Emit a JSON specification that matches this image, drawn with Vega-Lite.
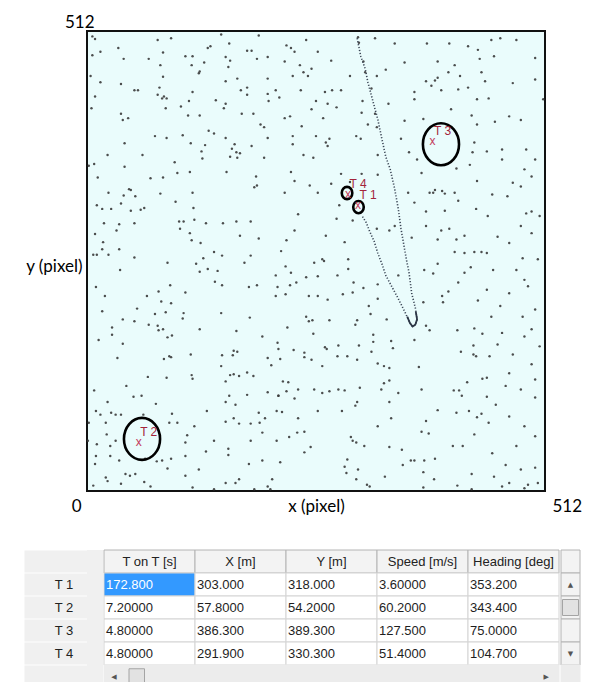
{
"$schema": "https://vega.github.io/schema/vega-lite/v6.json",
"padding": {"left": 13, "top": 12, "right": 0, "bottom": 0},
"background": "white",
"config": {"view": {"stroke": null}},
"spacing": 34,
"datasets": {
"dots": [
{"x":6,"y":506},{"x":9,"y":503},{"x":79,"y":502},{"x":94,"y":504},{"x":150,"y":508},{"x":192,"y":507},{"x":15,"y":489},{"x":35,"y":493},{"x":85,"y":488},{"x":135,"y":493},{"x":138,"y":495},{"x":159,"y":498},{"x":179,"y":490},{"x":184,"y":490},{"x":6,"y":485},{"x":41,"y":481},{"x":69,"y":481},{"x":110,"y":484},{"x":118,"y":484},{"x":131,"y":477},{"x":155,"y":483},{"x":160,"y":479},{"x":190,"y":481},{"x":202,"y":483},{"x":82,"y":474},{"x":117,"y":474},{"x":158,"y":472},{"x":126,"y":467},{"x":125,"y":465},{"x":4,"y":462},{"x":85,"y":461},{"x":202,"y":459},{"x":168,"y":459},{"x":15,"y":455},{"x":38,"y":453},{"x":155,"y":456},{"x":179,"y":449},{"x":172,"y":446},{"x":53,"y":446},{"x":57,"y":446},{"x":81,"y":449},{"x":118,"y":444},{"x":202,"y":442},{"x":211,"y":446},{"x":9,"y":439},{"x":79,"y":441},{"x":84,"y":437},{"x":86,"y":439},{"x":89,"y":437},{"x":114,"y":434},{"x":144,"y":435},{"x":155,"y":431},{"x":179,"y":441},{"x":203,"y":434},{"x":5,"y":426},{"x":88,"y":426},{"x":105,"y":428},{"x":153,"y":426},{"x":38,"y":420},{"x":40,"y":413},{"x":46,"y":415},{"x":113,"y":418},{"x":126,"y":418},{"x":173,"y":420},{"x":186,"y":420},{"x":194,"y":408},{"x":198,"y":405},{"x":76,"y":395},{"x":89,"y":393},{"x":107,"y":396},{"x":136,"y":401},{"x":142,"y":398},{"x":155,"y":393},{"x":202,"y":393},{"x":42,"y":387},{"x":116,"y":387},{"x":132,"y":385},{"x":165,"y":386},{"x":184,"y":384},{"x":23,"y":374},{"x":62,"y":374},{"x":128,"y":378},{"x":162,"y":381},{"x":167,"y":377},{"x":171,"y":376},{"x":160,"y":372},{"x":168,"y":371},{"x":129,"y":370},{"x":198,"y":371},{"x":8,"y":364},{"x":2,"y":362},{"x":42,"y":361},{"x":98,"y":366},{"x":12,"y":349},{"x":71,"y":348},{"x":85,"y":349},{"x":101,"y":354},{"x":115,"y":355},{"x":156,"y":355},{"x":189,"y":350},{"x":47,"y":336},{"x":49,"y":335},{"x":24,"y":332},{"x":41,"y":329},{"x":54,"y":328},{"x":82,"y":331},{"x":118,"y":332},{"x":187,"y":338},{"x":190,"y":340},{"x":99,"y":322},{"x":38,"y":320},{"x":11,"y":318},{"x":17,"y":314},{"x":27,"y":314},{"x":49,"y":312},{"x":60,"y":313},{"x":64,"y":315},{"x":119,"y":315},{"x":103,"y":300},{"x":108,"y":300},{"x":19,"y":298},{"x":36,"y":297},{"x":53,"y":298},{"x":120,"y":302},{"x":133,"y":298},{"x":152,"y":298},{"x":167,"y":300},{"x":183,"y":300},{"x":9,"y":286},{"x":33,"y":290},{"x":104,"y":292},{"x":115,"y":287},{"x":171,"y":284},{"x":192,"y":281},{"x":117,"y":279},{"x":127,"y":276},{"x":18,"y":277},{"x":17,"y":269},{"x":36,"y":269},{"x":7,"y":263},{"x":11,"y":263},{"x":24,"y":263},{"x":53,"y":260},{"x":130,"y":259},{"x":142,"y":266},{"x":151,"y":262},{"x":183,"y":262},
{"x":245,"y":502},{"x":223,"y":496},{"x":228,"y":493},{"x":232,"y":489},{"x":258,"y":489},{"x":304,"y":499},{"x":322,"y":504},{"x":303,"y":505},{"x":344,"y":498},{"x":380,"y":498},{"x":405,"y":498},{"x":426,"y":495},{"x":437,"y":491},{"x":221,"y":478},{"x":238,"y":474},{"x":251,"y":470},{"x":273,"y":479},{"x":309,"y":478},{"x":334,"y":469},{"x":355,"y":477},{"x":392,"y":478},{"x":411,"y":474},{"x":439,"y":481},{"x":242,"y":466},{"x":230,"y":462},{"x":247,"y":462},{"x":294,"y":462},{"x":311,"y":466},{"x":324,"y":462},{"x":379,"y":456},{"x":389,"y":457},{"x":392,"y":460},{"x":385,"y":451},{"x":404,"y":466},{"x":417,"y":462},{"x":441,"y":466},{"x":239,"y":446},{"x":266,"y":444},{"x":274,"y":446},{"x":284,"y":446},{"x":318,"y":448},{"x":366,"y":444},{"x":396,"y":446},{"x":415,"y":447},{"x":426,"y":449},{"x":215,"y":438},{"x":256,"y":434},{"x":308,"y":434},{"x":337,"y":431},{"x":366,"y":436},{"x":436,"y":436},{"x":251,"y":425},{"x":269,"y":431},{"x":279,"y":427},{"x":307,"y":421},{"x":322,"y":420},{"x":407,"y":425},{"x":430,"y":418},{"x":221,"y":415},{"x":227,"y":417},{"x":264,"y":415},{"x":240,"y":406},{"x":314,"y":408},{"x":324,"y":405},{"x":355,"y":412},{"x":376,"y":414},{"x":230,"y":395},{"x":256,"y":395},{"x":271,"y":392},{"x":301,"y":395},{"x":306,"y":392},{"x":351,"y":392},{"x":436,"y":408},{"x":230,"y":386},{"x":269,"y":384},{"x":267,"y":388},{"x":360,"y":377},{"x":431,"y":377},{"x":242,"y":374},{"x":253,"y":371},{"x":325,"y":374},{"x":369,"y":369},{"x":433,"y":388},{"x":228,"y":355},{"x":284,"y":353},{"x":307,"y":353},{"x":325,"y":352},{"x":374,"y":354},{"x":413,"y":359},{"x":428,"y":363},{"x":232,"y":345},{"x":249,"y":340},{"x":273,"y":342},{"x":294,"y":344},{"x":387,"y":332},{"x":389,"y":335},{"x":397,"y":334},{"x":400,"y":331},{"x":411,"y":332},{"x":436,"y":345},{"x":221,"y":332},{"x":258,"y":332},{"x":359,"y":332},{"x":366,"y":321},{"x":383,"y":332},{"x":415,"y":323},{"x":236,"y":308},{"x":282,"y":318},{"x":379,"y":311},{"x":400,"y":312},{"x":435,"y":314},{"x":232,"y":290},{"x":279,"y":303},{"x":297,"y":301},{"x":324,"y":292},{"x":338,"y":290},{"x":344,"y":295},{"x":379,"y":295},{"x":396,"y":290},{"x":405,"y":292},{"x":223,"y":279},{"x":267,"y":284},{"x":288,"y":277},{"x":363,"y":282},{"x":392,"y":280},{"x":413,"y":280},{"x":422,"y":284},{"x":217,"y":267},{"x":265,"y":256},{"x":292,"y":258},{"x":411,"y":266},{"x":422,"y":265},{"x":433,"y":266},{"x":441,"y":266},
{"x":90,"y":254},{"x":37,"y":246},{"x":122,"y":253},{"x":126,"y":244},{"x":135,"y":247},{"x":146,"y":245},{"x":176,"y":254},{"x":211,"y":240},{"x":10,"y":227},{"x":93,"y":229},{"x":143,"y":233},{"x":151,"y":229},{"x":181,"y":227},{"x":190,"y":229},{"x":213,"y":227},{"x":20,"y":217},{"x":67,"y":217},{"x":80,"y":222},{"x":83,"y":211},{"x":94,"y":209},{"x":110,"y":221},{"x":211,"y":217},{"x":17,"y":200},{"x":56,"y":203},{"x":76,"y":197},{"x":88,"y":199},{"x":108,"y":198},{"x":107,"y":192},{"x":150,"y":198},{"x":182,"y":193},{"x":40,"y":191},{"x":53,"y":189},{"x":69,"y":185},{"x":80,"y":179},{"x":85,"y":180},{"x":79,"y":184},{"x":126,"y":180},{"x":167,"y":178},{"x":28,"y":182},{"x":13,"y":168},{"x":28,"y":174},{"x":40,"y":164},{"x":90,"y":171},{"x":95,"y":173},{"x":196,"y":172},{"x":213,"y":165},{"x":34,"y":148},{"x":86,"y":147},{"x":92,"y":150},{"x":94,"y":149},{"x":116,"y":152},{"x":151,"y":151},{"x":163,"y":151},{"x":164,"y":156},{"x":168,"y":155},{"x":202,"y":148},{"x":214,"y":158},{"x":150,"y":139},{"x":160,"y":129},{"x":164,"y":130},{"x":170,"y":128},{"x":179,"y":132},{"x":186,"y":128},{"x":206,"y":140},{"x":68,"y":127},{"x":89,"y":126},{"x":117,"y":129},{"x":118,"y":125},{"x":155,"y":122},{"x":44,"y":117},{"x":8,"y":112},{"x":52,"y":105},{"x":61,"y":106},{"x":77,"y":97},{"x":159,"y":106},{"x":166,"y":96},{"x":179,"y":107},{"x":202,"y":110},{"x":214,"y":106},{"x":23,"y":99},{"x":155,"y":99},{"x":10,"y":89},{"x":15,"y":85},{"x":27,"y":87},{"x":32,"y":85},{"x":38,"y":85},{"x":63,"y":85},{"x":95,"y":86},{"x":134,"y":89},{"x":192,"y":87},{"x":199,"y":81},{"x":212,"y":89},{"x":2,"y":76},{"x":21,"y":76},{"x":92,"y":76},{"x":101,"y":76},{"x":120,"y":72},{"x":155,"y":77},{"x":170,"y":75},{"x":164,"y":81},{"x":183,"y":75},{"x":193,"y":76},{"x":22,"y":63},{"x":112,"y":62},{"x":196,"y":65},{"x":1,"y":56},{"x":11,"y":52},{"x":26,"y":50},{"x":32,"y":56},{"x":110,"y":54},{"x":142,"y":56},{"x":183,"y":56},{"x":212,"y":56},{"x":10,"y":39},{"x":26,"y":39},{"x":36,"y":34},{"x":65,"y":36},{"x":84,"y":34},{"x":94,"y":36},{"x":110,"y":39},{"x":133,"y":44},{"x":158,"y":47},{"x":158,"y":40},{"x":196,"y":34},{"x":9,"y":30},{"x":78,"y":33},{"x":90,"y":25},{"x":125,"y":24},{"x":181,"y":30},{"x":21,"y":15},{"x":23,"y":11},{"x":43,"y":19},{"x":48,"y":17},{"x":54,"y":19},{"x":64,"y":10},{"x":110,"y":17},{"x":170,"y":13},{"x":207,"y":13},{"x":7,"y":6},{"x":38,"y":8},{"x":71,"y":5},{"x":118,"y":4},{"x":142,"y":2},{"x":155,"y":9},{"x":166,"y":9},{"x":187,"y":2},{"x":202,"y":5},{"x":205,"y":2},
{"x":222,"y":250},{"x":228,"y":243},{"x":254,"y":254},{"x":263,"y":258},{"x":292,"y":247},{"x":392,"y":253},{"x":422,"y":243},{"x":429,"y":249},{"x":227,"y":229},{"x":234,"y":232},{"x":245,"y":238},{"x":258,"y":239},{"x":280,"y":240},{"x":298,"y":232},{"x":309,"y":226},{"x":325,"y":230},{"x":348,"y":240},{"x":377,"y":246},{"x":387,"y":242},{"x":415,"y":232},{"x":404,"y":222},{"x":222,"y":219},{"x":248,"y":217},{"x":258,"y":217},{"x":269,"y":213},{"x":286,"y":219},{"x":297,"y":221},{"x":325,"y":214},{"x":376,"y":210},{"x":397,"y":217},{"x":398,"y":210},{"x":437,"y":212},{"x":315,"y":206},{"x":317,"y":197},{"x":245,"y":194},{"x":248,"y":189},{"x":252,"y":190},{"x":271,"y":190},{"x":302,"y":190},{"x":300,"y":185},{"x":335,"y":191},{"x":383,"y":179},{"x":379,"y":184},{"x":224,"y":182},{"x":253,"y":175},{"x":320,"y":174},{"x":414,"y":179},{"x":433,"y":181},{"x":442,"y":175},{"x":231,"y":157},{"x":243,"y":154},{"x":243,"y":149},{"x":251,"y":146},{"x":266,"y":160},{"x":268,"y":158},{"x":281,"y":162},{"x":280,"y":150},{"x":291,"y":150},{"x":302,"y":146},{"x":304,"y":162},{"x":320,"y":166},{"x":318,"y":155},{"x":340,"y":167},{"x":342,"y":159},{"x":366,"y":168},{"x":418,"y":155},{"x":432,"y":162},{"x":432,"y":152},{"x":435,"y":150},{"x":216,"y":147},{"x":263,"y":139},{"x":325,"y":142},{"x":332,"y":139},{"x":338,"y":137},{"x":371,"y":138},{"x":219,"y":122},{"x":225,"y":121},{"x":223,"y":111},{"x":236,"y":113},{"x":254,"y":113},{"x":263,"y":109},{"x":271,"y":111},{"x":281,"y":113},{"x":288,"y":112},{"x":305,"y":115},{"x":329,"y":113},{"x":332,"y":120},{"x":338,"y":123},{"x":348,"y":109},{"x":374,"y":113},{"x":410,"y":112},{"x":416,"y":112},{"x":419,"y":106},{"x":425,"y":121},{"x":442,"y":125},{"x":214,"y":106},{"x":232,"y":103},{"x":300,"y":95},{"x":302,"y":99},{"x":338,"y":99},{"x":258,"y":89},{"x":285,"y":89},{"x":392,"y":90},{"x":413,"y":87},{"x":427,"y":89},{"x":436,"y":82},{"x":441,"y":86},{"x":218,"y":88},{"x":236,"y":81},{"x":325,"y":72},{"x":340,"y":81},{"x":379,"y":78},{"x":226,"y":60},{"x":235,"y":65},{"x":243,"y":66},{"x":295,"y":60},{"x":297,"y":56},{"x":301,"y":54},{"x":374,"y":66},{"x":382,"y":64},{"x":433,"y":63},{"x":243,"y":43},{"x":250,"y":49},{"x":310,"y":50},{"x":338,"y":49},{"x":352,"y":46},{"x":409,"y":50},{"x":420,"y":50},{"x":216,"y":32},{"x":291,"y":35},{"x":353,"y":29},{"x":362,"y":34},{"x":366,"y":34},{"x":377,"y":34},{"x":389,"y":36},{"x":430,"y":19},{"x":288,"y":27},{"x":290,"y":20},{"x":303,"y":24},{"x":333,"y":16},{"x":376,"y":21},{"x":388,"y":13},{"x":301,"y":13},{"x":313,"y":7},{"x":316,"y":5},{"x":376,"y":4},{"x":414,"y":6},{"x":430,"y":2},
{"x":452,"y":502},{"x":462,"y":504},{"x":480,"y":502},{"x":501,"y":482},{"x":455,"y":484},{"x":445,"y":456},{"x":476,"y":454},{"x":501,"y":458},{"x":510,"y":436},{"x":449,"y":437},{"x":472,"y":417},{"x":456,"y":411},{"x":485,"y":413},{"x":464,"y":380},{"x":491,"y":380},{"x":447,"y":378},{"x":464,"y":369},{"x":501,"y":369},{"x":489,"y":358},{"x":497,"y":350},{"x":476,"y":343},{"x":485,"y":339},{"x":453,"y":330},{"x":470,"y":328},{"x":491,"y":309},{"x":497,"y":311},{"x":506,"y":306},{"x":448,"y":306},{"x":485,"y":295},{"x":459,"y":283},{"x":472,"y":276},{"x":497,"y":287},{"x":487,"y":259},{"x":504,"y":258},{"x":447,"y":265},{"x":454,"y":246},{"x":480,"y":246},{"x":489,"y":235},{"x":447,"y":224},{"x":493,"y":228},{"x":472,"y":220},{"x":462,"y":206},{"x":501,"y":202},{"x":452,"y":194},{"x":487,"y":194},{"x":497,"y":180},{"x":464,"y":176},{"x":489,"y":172},{"x":459,"y":163},{"x":506,"y":161},{"x":450,"y":150},{"x":476,"y":152},{"x":497,"y":141},{"x":472,"y":131},{"x":447,"y":126},{"x":501,"y":124},{"x":468,"y":117},{"x":485,"y":113},{"x":447,"y":105},{"x":457,"y":96},{"x":501,"y":104},{"x":472,"y":83},{"x":449,"y":76},{"x":489,"y":72},{"x":501,"y":61},{"x":480,"y":50},{"x":453,"y":42},{"x":468,"y":29},{"x":485,"y":24},{"x":501,"y":26},{"x":455,"y":16},{"x":472,"y":9},{"x":493,"y":7},{"x":504,"y":9},{"x":464,"y":5},{"x":489,"y":3}
],
"track": [
{"i":0,"x":302,"y":504},{"i":1,"x":306,"y":484},{"i":2,"x":311,"y":470},{"i":3,"x":314,"y":455},{"i":4,"x":318,"y":440},{"i":5,"x":322,"y":425},{"i":6,"x":325,"y":414},{"i":7,"x":329,"y":395},{"i":8,"x":334,"y":372},{"i":9,"x":339,"y":358},{"i":10,"x":344,"y":336},{"i":11,"x":348,"y":314},{"i":12,"x":351,"y":292},{"i":13,"x":357,"y":258},{"i":14,"x":360,"y":243},{"i":15,"x":363,"y":220},{"i":16,"x":367,"y":204},{"i":17,"x":369,"y":191},{"i":18,"x":367,"y":185},{"i":19,"x":364,"y":183},{"i":20,"x":361,"y":187},{"i":21,"x":356,"y":198},{"i":22,"x":348,"y":214},{"i":23,"x":341,"y":227},{"i":24,"x":334,"y":240},{"i":25,"x":330,"y":252},{"i":26,"x":325,"y":265},{"i":27,"x":321,"y":278},{"i":28,"x":316,"y":289},{"i":29,"x":312,"y":299},{"i":30,"x":307,"y":307}
],
"trackb": [
{"i":0,"x":367.5,"y":200},{"i":1,"x":369,"y":191},{"i":2,"x":367,"y":185},{"i":3,"x":364,"y":183},{"i":4,"x":361,"y":187},{"i":5,"x":358,"y":194}
],
"targets": [
{"t":"T 1","x":303,"y":318,"gx":303.5,"gy":316,"gate":"small"},
{"t":"T 2","x":57.8,"y":54.2,"gx":61.5,"gy":58,"gate":"large"},
{"t":"T 3","x":386.3,"y":389.3,"gx":395.7,"gy":386,"gate":"large"},
{"t":"T 4","x":291.9,"y":330.3,"gx":290.7,"gy":331.7,"gate":"small"}
],
"table": [
{"part":"rh","r":"hdr","v":"","k":"rowh"},{"part":"rh","r":"T 1","v":"T 1","k":"rowh"},{"part":"rh","r":"T 2","v":"T 2","k":"rowh"},{"part":"rh","r":"T 3","v":"T 3","k":"rowh"},{"part":"rh","r":"T 4","v":"T 4","k":"rowh"},{"part":"rh","r":"sb","v":"","k":"bar"},
{"part":"data","r":"hdr","c":"T on T [s]","v":"T on T [s]","k":"head"},{"part":"data","r":"hdr","c":"X [m]","v":"X [m]","k":"head"},{"part":"data","r":"hdr","c":"Y [m]","v":"Y [m]","k":"head"},{"part":"data","r":"hdr","c":"Speed [m/s]","v":"Speed [m/s]","k":"head"},{"part":"data","r":"hdr","c":"Heading [deg]","v":"Heading [deg]","k":"head"},
{"part":"data","r":"T 1","c":"T on T [s]","v":"172.800","k":"sel"},{"part":"data","r":"T 1","c":"X [m]","v":"303.000","k":"cell"},{"part":"data","r":"T 1","c":"Y [m]","v":"318.000","k":"cell"},{"part":"data","r":"T 1","c":"Speed [m/s]","v":"3.60000","k":"cell"},{"part":"data","r":"T 1","c":"Heading [deg]","v":"353.200","k":"cell"},
{"part":"data","r":"T 2","c":"T on T [s]","v":"7.20000","k":"cell"},{"part":"data","r":"T 2","c":"X [m]","v":"57.8000","k":"cell"},{"part":"data","r":"T 2","c":"Y [m]","v":"54.2000","k":"cell"},{"part":"data","r":"T 2","c":"Speed [m/s]","v":"60.2000","k":"cell"},{"part":"data","r":"T 2","c":"Heading [deg]","v":"343.400","k":"cell"},
{"part":"data","r":"T 3","c":"T on T [s]","v":"4.80000","k":"cell"},{"part":"data","r":"T 3","c":"X [m]","v":"386.300","k":"cell"},{"part":"data","r":"T 3","c":"Y [m]","v":"389.300","k":"cell"},{"part":"data","r":"T 3","c":"Speed [m/s]","v":"127.500","k":"cell"},{"part":"data","r":"T 3","c":"Heading [deg]","v":"75.0000","k":"cell"},
{"part":"data","r":"T 4","c":"T on T [s]","v":"4.80000","k":"cell"},{"part":"data","r":"T 4","c":"X [m]","v":"291.900","k":"cell"},{"part":"data","r":"T 4","c":"Y [m]","v":"330.300","k":"cell"},{"part":"data","r":"T 4","c":"Speed [m/s]","v":"51.4000","k":"cell"},{"part":"data","r":"T 4","c":"Heading [deg]","v":"104.700","k":"cell"},
{"part":"data","r":"sb","c":"T on T [s]","v":"","k":"bar"},{"part":"data","r":"sb","c":"X [m]","v":"","k":"bar"},{"part":"data","r":"sb","c":"Y [m]","v":"","k":"bar"},{"part":"data","r":"sb","c":"Speed [m/s]","v":"","k":"bar"},{"part":"data","r":"sb","c":"Heading [deg]","v":"","k":"bar"},
{"part":"dg","r":"sb","c":"T on T [s]","v":"◀","k":"la"},{"part":"dg","r":"sb","c":"T on T [s]","v":"","k":"thumb"},{"part":"dg","r":"sb","c":"Heading [deg]","v":"▶","k":"ra"},
{"part":"sc","r":"hdr","v":"","k":"head"},{"part":"sc","r":"T 1","v":"","k":"track"},{"part":"sc","r":"T 2","v":"","k":"track"},{"part":"sc","r":"T 3","v":"","k":"track"},{"part":"sc","r":"T 4","v":"","k":"track"},{"part":"sc","r":"sb","v":"","k":"bar"},
{"part":"sg","r":"T 1","v":"▲","k":"ua"},{"part":"sg","r":"T 2","v":"","k":"thumb"},{"part":"sg","r":"T 4","v":"▼","k":"da"}
]
},
"vconcat": [
{
"width": 458,
"height": 460,
"view": {"fill": "#eafcfc", "stroke": "#111111", "strokeWidth": 2},
"layer": [
{"data": {"name": "dots"},
 "mark": {"type": "circle", "size": 6, "color": "#3a3a3a", "opacity": 0.9},
 "encoding": {
  "x": {"field": "x", "type": "quantitative", "scale": {"domain": [0, 512], "nice": false, "zero": false},
   "axis": {"values": [0, 512], "domain": false, "ticks": false, "tickSize": 0, "grid": false, "labelFlush": false, "labelBound": false, "labelOverlap": false,
    "labelFont": "Lato", "labelFontSize": 17, "labelColor": "#000000", "labelBaseline": "middle", "labelPadding": 15,
    "labelAlign": {"condition": {"test": "datum.value == 0", "value": "right"}, "value": "left"},
    "labelOffset": {"condition": {"test": "datum.value == 0", "value": -6}, "value": 7},
    "title": "x (pixel)", "titleFont": "Lato", "titleFontSize": 17, "titleFontWeight": "normal", "titleColor": "#000000", "titleBaseline": "middle", "titleY": 15}},
  "y": {"field": "y", "type": "quantitative", "scale": {"domain": [0, 512], "nice": false, "zero": false},
   "axis": {"values": [512], "domain": false, "ticks": false, "tickSize": 0, "grid": false, "labelFlush": false, "labelBound": false, "labelOverlap": false,
    "labelFont": "Lato", "labelFontSize": 17, "labelColor": "#000000", "labelAlign": "right", "labelBaseline": "alphabetic", "labelPadding": -7, "labelOffset": -4,
    "title": "y (pixel)", "titleAngle": 0, "titleAlign": "right", "titleBaseline": "middle", "titleX": -5, "titleY": 235,
    "titleFont": "Lato", "titleFontSize": 17, "titleFontWeight": "normal", "titleColor": "#000000"}}
 }},
{"data": {"name": "track"},
 "mark": {"type": "line", "strokeDash": [1.2, 1.8], "strokeWidth": 1.6, "color": "#3b4656"},
 "encoding": {
  "x": {"field": "x", "type": "quantitative", "scale": {"domain": [0, 512], "nice": false, "zero": false}},
  "y": {"field": "y", "type": "quantitative", "scale": {"domain": [0, 512], "nice": false, "zero": false}},
  "order": {"field": "i", "type": "quantitative"}}},
{"data": {"name": "trackb"},
 "mark": {"type": "line", "strokeWidth": 1.8, "color": "#2c3646"},
 "encoding": {
  "x": {"field": "x", "type": "quantitative", "scale": {"domain": [0, 512], "nice": false, "zero": false}},
  "y": {"field": "y", "type": "quantitative", "scale": {"domain": [0, 512], "nice": false, "zero": false}},
  "order": {"field": "i", "type": "quantitative"}}},
{"data": {"name": "targets"},
 "mark": {"type": "point", "shape": "M0,-1A0.86,1 0 1,1 0,1A0.86,1 0 1,1 0,-1Z", "filled": false, "stroke": "#000000", "strokeWidth": 2.6, "opacity": 1},
 "encoding": {
  "x": {"field": "gx", "type": "quantitative", "scale": {"domain": [0, 512], "nice": false, "zero": false}},
  "y": {"field": "gy", "type": "quantitative", "scale": {"domain": [0, 512], "nice": false, "zero": false}},
  "size": {"field": "gate", "type": "ordinal", "scale": {"domain": ["small", "large"], "range": [150, 1764]}, "legend": null}}},
{"data": {"name": "targets"},
 "mark": {"type": "text", "text": "x", "font": "Liberation Sans", "fontSize": 12, "color": "#c23a5a", "baseline": "middle"},
 "encoding": {
  "x": {"field": "x", "type": "quantitative", "scale": {"domain": [0, 512], "nice": false, "zero": false}},
  "y": {"field": "y", "type": "quantitative", "scale": {"domain": [0, 512], "nice": false, "zero": false}}}},
{"data": {"name": "targets"},
 "mark": {"type": "text", "font": "Liberation Sans", "fontSize": 12, "color": "#a3243b", "dx": 10, "dy": -10, "baseline": "middle"},
 "encoding": {
  "x": {"field": "x", "type": "quantitative", "scale": {"domain": [0, 512], "nice": false, "zero": false}},
  "y": {"field": "y", "type": "quantitative", "scale": {"domain": [0, 512], "nice": false, "zero": false}},
  "text": {"field": "t", "type": "nominal"}}}
]
},
{
"spacing": 0,
"data": {"name": "table"},
"hconcat": [
{
"width": 16, "height": 138,
"encoding": {"y": {"field": "r", "type": "nominal", "scale": {"domain": ["hdr", "T 1", "T 2", "T 3", "T 4", "sb"], "paddingInner": 0, "paddingOuter": 0},
  "axis": {"title": null, "domain": false, "grid": false, "ticks": true, "tickSize": 63, "tickWidth": 22, "tickColor": "#f0f0f0", "tickBand": "center",
   "labelExpr": "datum.value == 'hdr' || datum.value == 'sb' ? '' : datum.value",
   "labelAlign": "center", "labelBaseline": "middle", "labelPadding": -39.5, "labelFont": "Liberation Sans", "labelFontSize": 13, "labelColor": "#222222",
   "labelBound": false, "labelOverlap": false, "labelFlush": false}}},
"layer": [
 {"transform": [{"filter": "datum.part == 'rh'"}],
  "mark": {"type": "rect", "fill": "#f0f0f0", "strokeWidth": 0},
  "encoding": {"x": {"value": 0}, "x2": {"value": "width"}}}
]
},
{
"width": 455, "height": 138,
"encoding": {
 "x": {"field": "c", "type": "nominal", "scale": {"domain": ["T on T [s]", "X [m]", "Y [m]", "Speed [m/s]", "Heading [deg]"], "paddingInner": 0, "paddingOuter": 0}, "axis": null},
 "y": {"field": "r", "type": "nominal", "scale": {"domain": ["hdr", "T 1", "T 2", "T 3", "T 4", "sb"], "paddingInner": 0, "paddingOuter": 0}, "axis": null}},
"layer": [
 {"transform": [{"filter": "datum.part == 'data'"}],
  "mark": {"type": "rect", "strokeWidth": 1},
  "encoding": {
   "fill": {"field": "k", "type": "nominal", "scale": {"domain": ["head", "sel", "cell", "bar"], "range": ["#f3f3f3", "#3399ff", "#ffffff", "#ececec"]}, "legend": null},
   "stroke": {"field": "k", "type": "nominal", "scale": {"domain": ["head", "sel", "cell", "bar"], "range": ["#b4b4b4", "#d4d4d4", "#d4d4d4", "#ececec"]}, "legend": null}}},
 {"transform": [{"filter": "datum.part == 'data' && datum.k == 'head'"}],
  "mark": {"type": "text", "font": "Liberation Sans", "fontSize": 13, "color": "#222222"},
  "encoding": {"text": {"field": "v", "type": "nominal"}}},
 {"transform": [{"filter": "datum.part == 'data' && (datum.k == 'cell' || datum.k == 'sel')"}],
  "mark": {"type": "text", "align": "left", "dx": 2, "font": "Liberation Sans", "fontSize": 13},
  "encoding": {
   "x": {"field": "c", "type": "nominal", "bandPosition": 0},
   "text": {"field": "v", "type": "nominal"},
   "color": {"field": "k", "type": "nominal", "scale": {"domain": ["sel", "cell"], "range": ["#ffffff", "#1e1e1e"]}, "legend": null}}},
 {"transform": [{"filter": "datum.part == 'dg' && datum.k == 'la'"}],
  "mark": {"type": "text", "font": "DejaVu Sans", "fontSize": 7, "color": "#555555"},
  "encoding": {"x": {"field": "c", "type": "nominal", "bandPosition": 0.11}, "text": {"field": "v", "type": "nominal"}}},
 {"transform": [{"filter": "datum.part == 'dg' && datum.k == 'thumb'"}],
  "mark": {"type": "point", "shape": "square", "size": 240, "filled": true, "fill": "#e2e2e2", "stroke": "#a4a4a4", "strokeWidth": 1, "opacity": 1},
  "encoding": {"x": {"field": "c", "type": "nominal", "bandPosition": 0.36}}},
 {"transform": [{"filter": "datum.part == 'dg' && datum.k == 'ra'"}],
  "mark": {"type": "text", "font": "DejaVu Sans", "fontSize": 7, "color": "#555555"},
  "encoding": {"x": {"field": "c", "type": "nominal", "bandPosition": 0.86}, "text": {"field": "v", "type": "nominal"}}}
]
},
{
"width": 19, "height": 138,
"encoding": {"y": {"field": "r", "type": "nominal", "scale": {"domain": ["hdr", "T 1", "T 2", "T 3", "T 4", "sb"], "paddingInner": 0, "paddingOuter": 0}, "axis": null}},
"layer": [
 {"transform": [{"filter": "datum.part == 'sc'"}],
  "mark": {"type": "rect", "strokeWidth": 1},
  "encoding": {
   "x": {"value": 0}, "x2": {"value": "width"},
   "fill": {"field": "k", "type": "nominal", "scale": {"domain": ["head", "track", "bar"], "range": ["#f3f3f3", "#f2f2f2", "#ececec"]}, "legend": null},
   "stroke": {"field": "k", "type": "nominal", "scale": {"domain": ["head", "track", "bar"], "range": ["#b4b4b4", "#f2f2f2", "#ececec"]}, "legend": null}}},
 {"transform": [{"filter": "datum.part == 'sg' && (datum.k == 'ua' || datum.k == 'da')"}],
  "mark": {"type": "text", "font": "DejaVu Sans", "fontSize": 7, "color": "#555555"},
  "encoding": {"text": {"field": "v", "type": "nominal"}}},
 {"transform": [{"filter": "datum.part == 'sg' && datum.k == 'thumb'"}],
  "mark": {"type": "point", "shape": "square", "size": 256, "filled": true, "fill": "#e2e2e2", "stroke": "#a4a4a4", "strokeWidth": 1, "opacity": 1},
  "encoding": {}}
]
}
]
}
]
}
